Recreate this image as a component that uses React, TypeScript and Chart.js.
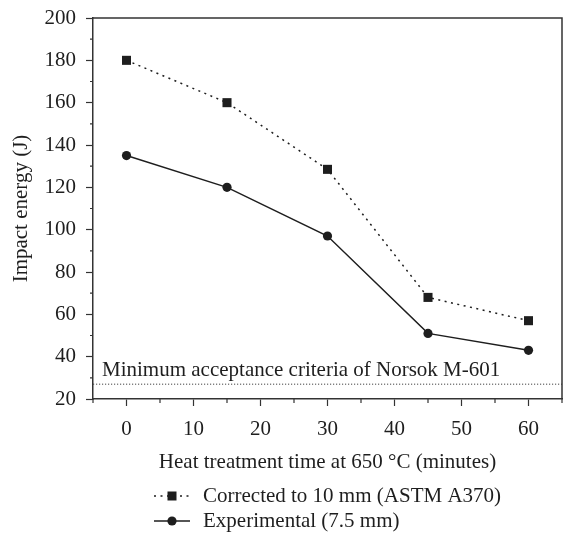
import React, { useEffect, useRef } from "react";
import { Chart, registerables } from "chart.js";

Chart.register(...registerables);

const timeMinutes = [0, 15, 30, 45, 60];
const correctedEnergy = [180, 160, 128.5, 68, 57];
const experimentalEnergy = [135, 120, 97, 51, 43];
const limitX = [-5, 65];
const limitY = [27, 27];
const limitLabel = "Minimum acceptance criteria of Norsok M-601";
const xMajorTicks = [0, 10, 20, 30, 40, 50, 60];
const yMajorTicks = [20, 40, 60, 80, 100, 120, 140, 160, 180, 200];
const xMinorTicks = [-5, 5, 15, 25, 35, 45, 55, 65];
const yMinorTicks = [30, 50, 70, 90, 110, 130, 150, 170, 190];
const seriesNames = ["Corrected to 10 mm (ASTM A370)", "Experimental (7.5 mm)"];

const FONT = '"Liberation Serif", "Times New Roman", serif';
const FS = 21;
const INK = "#1e1e1e";
const AXIS = "#333333";

const decorPlugin = {
  id: "decor",
  afterDraw(chart: any) {
    const { ctx, chartArea, scales } = chart;
    const xs = scales.x;
    const ys = scales.y;
    ctx.save();
    ctx.strokeStyle = AXIS;
    ctx.lineWidth = 1.5;
    ctx.beginPath();
    ctx.moveTo(chartArea.left, chartArea.top);
    ctx.lineTo(chartArea.right, chartArea.top);
    ctx.lineTo(chartArea.right, chartArea.bottom);
    ctx.stroke();
    ctx.lineWidth = 1.2;
    ctx.beginPath();
    xMinorTicks.forEach((v) => {
      const px = xs.getPixelForValue(v);
      ctx.moveTo(px, chartArea.bottom);
      ctx.lineTo(px, chartArea.bottom + 4);
    });
    yMinorTicks.forEach((v) => {
      const py = ys.getPixelForValue(v);
      ctx.moveTo(chartArea.left, py);
      ctx.lineTo(chartArea.left - 3, py);
    });
    ctx.stroke();
    ctx.fillStyle = INK;
    ctx.font = `${FS}px ${FONT}`;
    ctx.textAlign = "left";
    ctx.textBaseline = "alphabetic";
    ctx.fillText(limitLabel, chartArea.left + 9, ys.getPixelForValue(limitY[0]) - 8);
    const rows = [496, 521];
    chart.data.datasets.slice(0, 2).forEach((ds: any, i: number) => {
      const y = rows[i];
      const x0 = 154;
      const x1 = 190;
      const cx = 172;
      ctx.strokeStyle = ds.borderColor;
      ctx.lineWidth = ds.borderWidth;
      ctx.setLineDash(ds.borderDash || []);
      ctx.beginPath();
      ctx.moveTo(x0, y);
      ctx.lineTo(x1, y);
      ctx.stroke();
      ctx.setLineDash([]);
      ctx.fillStyle = ds.pointBackgroundColor;
      if (ds.pointStyle === "rect") {
        ctx.fillRect(cx - 4.5, y - 4.5, 9, 9);
      } else {
        ctx.beginPath();
        ctx.arc(cx, y, 4.6, 0, Math.PI * 2);
        ctx.fill();
      }
      ctx.fillStyle = INK;
      ctx.textBaseline = "middle";
      ctx.fillText(seriesNames[i], 203, y);
    });
    ctx.restore();
  },
};

export default function App() {
  const ref = useRef<HTMLCanvasElement>(null);
  useEffect(() => {
    document.body.style.margin = "0";
    const canvas = ref.current!;
    const chart = new Chart(canvas, {
      type: "line",
      data: {
        datasets: [
          {
            label: seriesNames[0],
            data: timeMinutes.map((x, i) => ({ x, y: correctedEnergy[i] })),
            borderColor: INK,
            backgroundColor: INK,
            pointBackgroundColor: INK,
            pointBorderColor: INK,
            borderWidth: 1.5,
            borderDash: [2, 4.5],
            pointStyle: "rect",
            pointRadius: 6.4,
            pointBorderWidth: 0,
          },
          {
            label: seriesNames[1],
            data: timeMinutes.map((x, i) => ({ x, y: experimentalEnergy[i] })),
            borderColor: INK,
            backgroundColor: INK,
            pointBackgroundColor: INK,
            pointBorderColor: INK,
            borderWidth: 1.5,
            pointStyle: "circle",
            pointRadius: 4.6,
            pointBorderWidth: 0,
          },
          {
            label: "limit",
            data: limitX.map((x, i) => ({ x, y: limitY[i] })),
            borderColor: "#444",
            borderWidth: 1,
            borderDash: [1.2, 1.8],
            pointRadius: 0,
          },
        ],
      },
      options: {
        responsive: false,
        animation: false,
        layout: { autoPadding: false, padding: { top: 18, right: 1, left: 0, bottom: 65 } },
        plugins: { legend: { display: false }, tooltip: { enabled: false } },
        scales: {
          x: {
            type: "linear",
            min: -5,
            max: 65,
            afterBuildTicks: (s: any) => {
              s.ticks = xMajorTicks.map((v) => ({ value: v }));
            },
            afterFit: (s: any) => {
              s.height = 76;
              s.paddingLeft = 0;
              s.paddingRight = 0;
              s.paddingTop = 0;
              s.paddingBottom = 0;
            },
            ticks: {
              color: INK,
              font: { family: FONT, size: FS },
              padding: 11,
              maxRotation: 0,
            },
            grid: { drawOnChartArea: false, tickLength: 7, tickColor: AXIS, tickWidth: 1.2 },
            border: { color: AXIS, width: 1.5 },
            title: {
              display: true,
              text: "Heat treatment time at 650 °C (minutes)",
              color: INK,
              font: { family: FONT, size: FS },
              padding: { top: 0, bottom: 0 },
            },
          },
          y: {
            min: 20,
            max: 200,
            afterBuildTicks: (s: any) => {
              s.ticks = yMajorTicks.map((v) => ({ value: v }));
            },
            afterFit: (s: any) => {
              s.width = 93;
              s.paddingLeft = 0;
              s.paddingRight = 0;
              s.paddingTop = 0;
              s.paddingBottom = 0;
            },
            ticks: {
              color: INK,
              font: { family: FONT, size: FS },
              padding: 10,
            },
            grid: { drawOnChartArea: false, tickLength: 7, tickColor: AXIS, tickWidth: 1.2 },
            border: { color: AXIS, width: 1.5 },
            title: {
              display: true,
              text: "Impact energy (J)",
              color: INK,
              font: { family: FONT, size: FS },
              padding: { top: 9, bottom: 0 },
            },
          },
        },
      },
      plugins: [decorPlugin],
    } as any);
    return () => chart.destroy();
  }, []);
  return <canvas ref={ref} width={563} height={540} style={{ display: "block" }} />;
}
